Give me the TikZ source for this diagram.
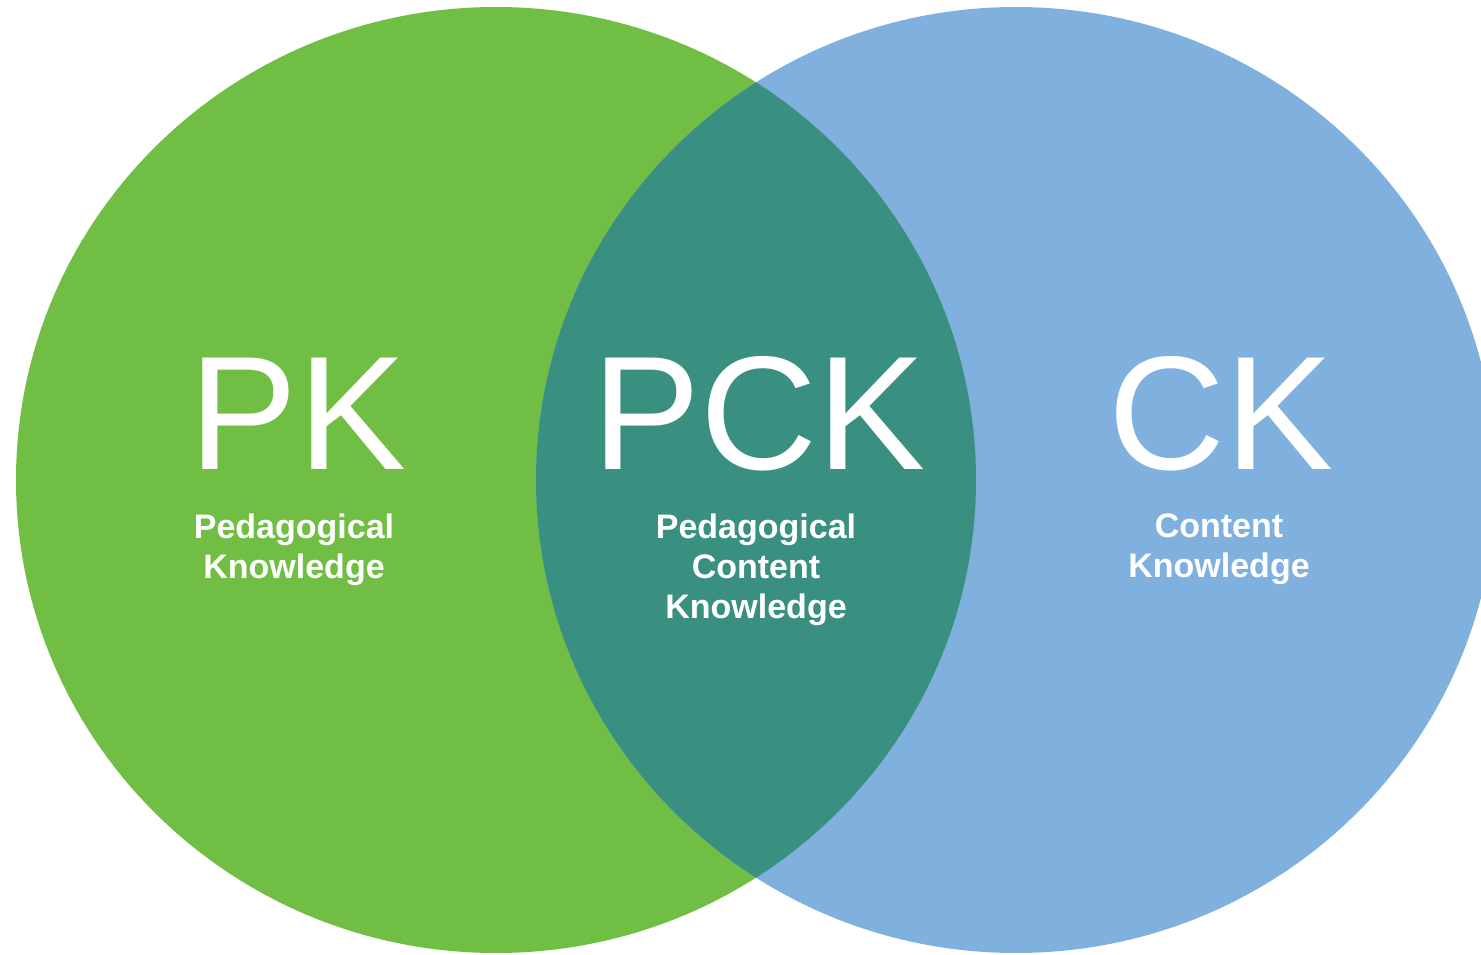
\documentclass[tikz,border=0pt]{standalone}
\usepackage{fontspec}
\setmainfont{Liberation Sans}
\definecolor{pkgreen}{RGB}{112,190,68}
\definecolor{ckblue}{RGB}{127,176,222}
\definecolor{pckteal}{RGB}{58,144,128}
\begin{document}
\begin{tikzpicture}[x=1pt,y=-1pt,
  bigletters/.style={text=white,inner sep=0pt,anchor=base,font=\fontsize{162}{162}\selectfont},
  subline/.style={text=white,inner sep=0pt,anchor=base,font=\fontsize{34}{40}\selectfont\bfseries}]
\useasboundingbox (0,0) rectangle (1481,955);
\fill[pkgreen] (496,480) ellipse [x radius=480, y radius=473];
\fill[ckblue] (1016,480) ellipse [x radius=480, y radius=473];
\begin{scope}
  \clip (496,480) ellipse [x radius=480, y radius=473];
  \fill[pckteal] (1016,480) ellipse [x radius=480, y radius=473];
\end{scope}
\node[bigletters] (pk) at (298,469) {PK};
\node[bigletters] (pck) at (759,469) {PCK};
\node[bigletters] (ck) at (1221,469) {CK};
\node[subline] (pk1) at (294,538) {Pedagogical};
\node[subline] (pk2) at (294,578) {Knowledge};
\node[subline] (pck1) at (756,538) {Pedagogical};
\node[subline] (pck2) at (756,578) {Content};
\node[subline] (pck3) at (756,618) {Knowledge};
\node[subline] (ck1) at (1219,537) {Content};
\node[subline] (ck2) at (1219,577) {Knowledge};
\end{tikzpicture}
\end{document}
